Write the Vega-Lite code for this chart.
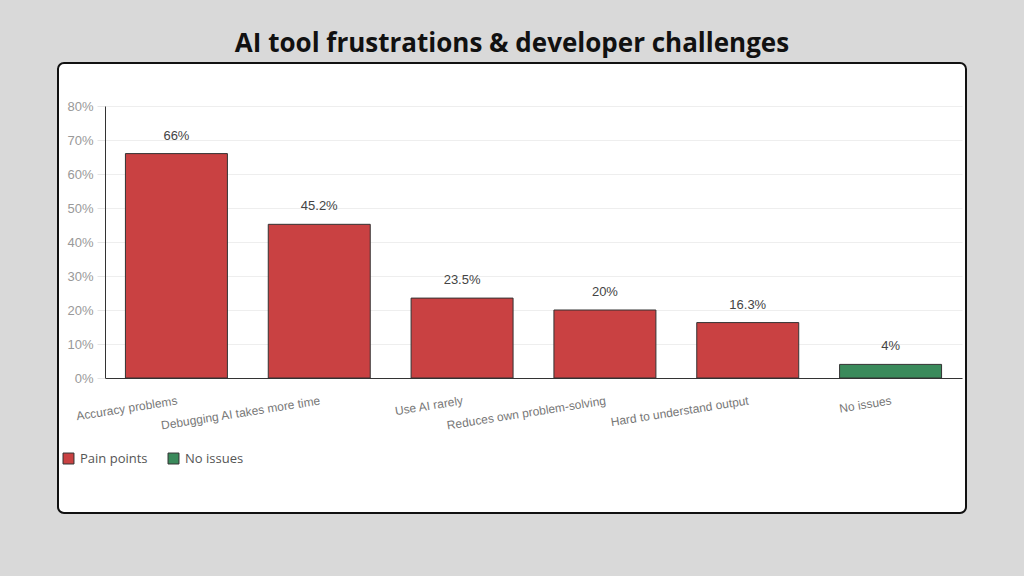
{
  "$schema": "https://vega.github.io/schema/vega-lite/v6.json",
  "width": 908,
  "height": 450,
  "autosize": {"type": "none"},
  "padding": {"left": 58, "top": 63, "right": 58, "bottom": 63},
  "background": "#d9d9d9",
  "title": {
    "text": "AI tool frustrations & developer challenges",
    "anchor": "middle",
    "frame": "group",
    "font": "Open Sans",
    "fontSize": 26,
    "fontWeight": "bold",
    "color": "#111111",
    "offset": 6
  },
  "view": {"fill": "#ffffff", "stroke": "#111111", "strokeWidth": 2, "cornerRadius": 6},
  "data": {
    "values": [
      {"issue": "Accuracy problems", "value": 66, "group": "Pain points"},
      {"issue": "Debugging AI takes more time", "value": 45.2, "group": "Pain points"},
      {"issue": "Use AI rarely", "value": 23.5, "group": "Pain points"},
      {"issue": "Reduces own problem-solving", "value": 20, "group": "Pain points"},
      {"issue": "Hard to understand output", "value": 16.3, "group": "Pain points"},
      {"issue": "No issues", "value": 4, "group": "No issues"}
    ]
  },
  "transform": [{"calculate": "datum.value + '%'", "as": "label"}],
  "encoding": {
    "x": {
      "field": "issue",
      "type": "nominal",
      "sort": null,
      "title": null,
      "scale": {"range": [47, 904], "paddingInner": 0.286, "paddingOuter": 0.143},
      "axis": {
        "orient": "bottom",
        "offset": -135,
        "domainColor": "#333333",
        "domainWidth": 1,
        "ticks": false,
        "labelAngle": -9,
        "labelAlign": "right",
        "labelBaseline": "top",
        "labelPadding": 17,
        "labelFont": "Liberation Sans",
        "labelFontSize": 12,
        "labelColor": "#777777",
        "labelLimit": 300,
        "grid": false
      }
    },
    "y": {
      "field": "value",
      "type": "quantitative",
      "title": null,
      "scale": {"domain": [0, 80], "range": [315, 43], "nice": false, "zero": true},
      "axis": {
        "orient": "left",
        "offset": -47,
        "values": [0, 10, 20, 30, 40, 50, 60, 70, 80],
        "labelExpr": "datum.value + '%'",
        "domainColor": "#333333",
        "domainWidth": 1,
        "tickColor": "#e6e6e6",
        "tickSize": 8,
        "labelPadding": 4,
        "labelFont": "Liberation Sans",
        "labelFontSize": 13,
        "labelColor": "#999999",
        "grid": true,
        "gridColor": "#eeeeee",
        "gridWidth": 1
      }
    }
  },
  "layer": [
    {
      "mark": {"type": "bar", "stroke": "#333333", "strokeWidth": 1, "fillOpacity": 1},
      "encoding": {
        "color": {
          "field": "group",
          "type": "nominal",
          "title": null,
          "scale": {"domain": ["Pain points", "No issues"], "range": ["#c94142", "#3a8a5b"]},
          "legend": {
            "orient": "none",
            "legendX": 4,
            "legendY": 389,
            "direction": "horizontal",
            "symbolType": "square",
            "symbolSize": 120,
            "symbolStrokeColor": "#333333",
            "symbolStrokeWidth": 1,
            "symbolOpacity": 1,
            "labelFont": "Open Sans",
            "labelFontSize": 13,
            "labelColor": "#555555",
            "columnPadding": 18,
            "labelOffset": 5
          }
        }
      }
    },
    {
      "mark": {"type": "text", "dy": -14, "baseline": "alphabetic", "font": "Liberation Sans", "fontSize": 13, "color": "#444444"},
      "encoding": {"text": {"field": "label", "type": "nominal"}}
    }
  ]
}
